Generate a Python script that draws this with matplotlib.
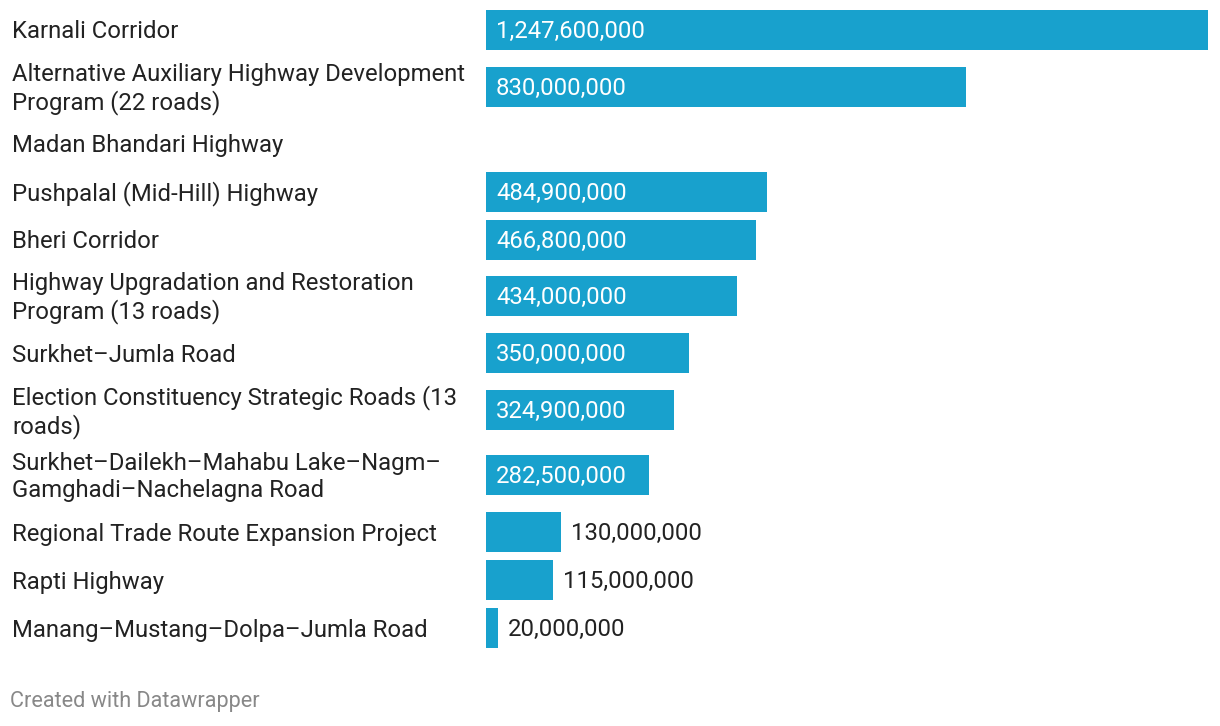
import numpy as np
import matplotlib.pyplot as plt

plt.rcParams['font.family'] = ['Roboto', 'DejaVu Sans']

roads = [
    "Karnali Corridor",
    "Alternative Auxiliary Highway Development\nProgram (22 roads)",
    "Madan Bhandari Highway",
    "Pushpalal (Mid-Hill) Highway",
    "Bheri Corridor",
    "Highway Upgradation and Restoration\nProgram (13 roads)",
    "Surkhet\u2013Jumla Road",
    "Election Constituency Strategic Roads (13\nroads)",
    "Surkhet\u2013Dailekh\u2013Mahabu Lake\u2013Nagm\u2013\nGamghadi\u2013Nachelagna Road",
    "Regional Trade Route Expansion Project",
    "Rapti Highway",
    "Manang\u2013Mustang\u2013Dolpa\u2013Jumla Road",
]
budget = [1247600000, 830000000, np.nan, 484900000, 466800000, 434000000,
          350000000, 324900000, 282500000, 130000000, 115000000, 20000000]

W, H = 1220, 726
fig = plt.figure(figsize=(W / 100, H / 100), dpi=100)

# bars from x=486px to 1208px, y in pixels from the top
ax = fig.add_axes([486 / W, 0, (1208 - 486) / W, 1])
ax.set_xlim(0, max(v for v in budget if not np.isnan(v)))
ax.set_ylim(H, 0)
ax.axis('off')

# row layout: one-line rows 48px, two-line rows ~65px
heights = [65.5 if '\n' in r else 48 for r in roads]
centers = []
pos = 30 - heights[0] / 2
for h in heights:
    centers.append(pos + h / 2)
    pos += h

blue = '#18a1cd'
vals = np.nan_to_num(budget)
ax.barh(centers, vals, height=40, color=blue)

fs = 17.2
px = ax.get_xlim()[1] / (1208 - 486)  # data units per pixel
for y, r, v in zip(centers, roads, budget):
    fig.text(12 / W, 1 - (y + 2) / H, r, ha='left', va='center', fontsize=fs,
             color='#222222', linespacing=1.2)
    if np.isnan(v):
        continue
    lab = f"{v:,.0f}"
    if v > 250e6:
        ax.text(10 * px, y + 1.5, lab, ha='left', va='center', fontsize=fs,
                color='white')
    else:
        ax.text(v + 10 * px, y + 1.5, lab, ha='left', va='center', fontsize=fs,
                color='#222222')

fig.text(10 / W, 1 - 702 / H, "Created with Datawrapper", ha='left',
         va='center', fontsize=15.6, color='#888888')

fig.savefig('out.png', dpi=100)
